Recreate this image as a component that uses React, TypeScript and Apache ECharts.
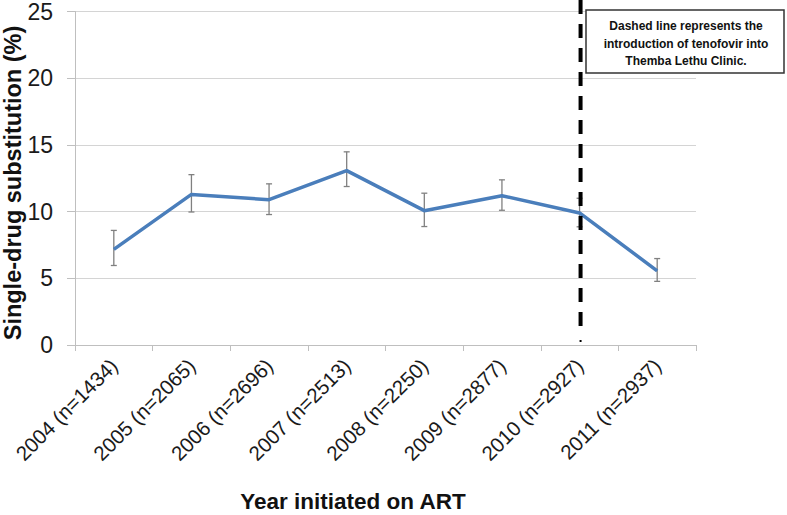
import React, { useEffect, useRef } from "react";
import * as echarts from "echarts";

const categories = [
  "2004 (n=1434)",
  "2005 (n=2065)",
  "2006 (n=2696)",
  "2007 (n=2513)",
  "2008 (n=2250)",
  "2009 (n=2877)",
  "2010 (n=2927)",
  "2011 (n=2937)",
];
const values = [7.17, 11.29, 10.89, 13.07, 10.07, 11.19, 9.9, 5.56];
const lows = [5.96, 9.97, 9.78, 11.88, 8.88, 10.1, 8.86, 4.77];
const highs = [8.59, 12.77, 12.08, 14.48, 11.38, 12.38, 11.0, 6.48];
const tenofovirIndex = 6;
const noteLines = [
  "Dashed line represents the",
  "introduction of tenofovir into",
  "Themba Lethu Clinic.",
];
const xTitle = "Year initiated on ART";
const yTitle = "Single-drug substitution (%)";

const FONT = '"Liberation Sans", Arial, Helvetica, sans-serif';

export default function App() {
  const ref = useRef<HTMLDivElement>(null);
  useEffect(() => {
    if (!ref.current) return;
    const chart = echarts.init(ref.current, undefined, { renderer: "svg" });
    const errData = categories.map((_, i) => [i, lows[i], highs[i]]);
    chart.setOption({
      animation: false,
      backgroundColor: "#ffffff",
      grid: { left: 75, right: 91, top: 8, bottom: 170 },
      xAxis: {
        type: "category",
        data: categories,
        boundaryGap: true,
        axisLine: { show: true, lineStyle: { color: "#bfbfbf", width: 1 } },
        axisTick: { show: true, length: 6, lineStyle: { color: "#bfbfbf" } },
        axisLabel: {
          rotate: 45,
          fontSize: 20.5,
          color: "#1a1a1a",
          fontFamily: FONT,
          margin: 17,
          interval: 0,
        },
      },
      yAxis: {
        type: "value",
        min: 0,
        max: 25,
        interval: 5,
        axisLine: { show: true, lineStyle: { color: "#bfbfbf", width: 1 } },
        axisTick: { show: true, length: 8, lineStyle: { color: "#bfbfbf" } },
        splitLine: { show: true, lineStyle: { color: "#d4d4d4", width: 1 } },
        axisLabel: {
          fontSize: 23,
          color: "#1a1a1a",
          fontFamily: FONT,
          margin: 22,
        },
      },
      series: [
        {
          type: "custom",
          data: errData,
          z: 2,
          renderItem: (params: any, api: any) => {
            const x = api.value(0);
            const lo = api.coord([x, api.value(1)]);
            const hi = api.coord([x, api.value(2)]);
            const cap = 3;
            const style = { stroke: "#808080", lineWidth: 1.3 };
            return {
              type: "group",
              children: [
                { type: "line", shape: { x1: lo[0], y1: lo[1], x2: hi[0], y2: hi[1] }, style },
                { type: "line", shape: { x1: lo[0] - cap, y1: lo[1], x2: lo[0] + cap, y2: lo[1] }, style },
                { type: "line", shape: { x1: hi[0] - cap, y1: hi[1], x2: hi[0] + cap, y2: hi[1] }, style },
              ],
            };
          },
        },
        {
          type: "line",
          data: values,
          z: 3,
          showSymbol: false,
          symbol: "none",
          lineStyle: { color: "#4a7ebb", width: 3.5 },
        },
        {
          type: "custom",
          data: [[tenofovirIndex, 0]],
          z: 4,
          renderItem: (params: any, api: any) => {
            const p = api.coord([api.value(0), api.value(1)]);
            const x = p[0] + 1;
            return {
              type: "group",
              children: [
                {
                  type: "line",
                  shape: { x1: x, y1: 0, x2: x, y2: p[1] - 10 },
                  style: { stroke: "#000", lineWidth: 4, lineDash: [14, 10] },
                },
                {
                  type: "rect",
                  shape: { x: x - 1, y: p[1] - 5, width: 2, height: 2 },
                  style: { fill: "#000" },
                },
              ],
            };
          },
        },
      ],
      graphic: [
        {
          type: "text",
          x: 353,
          y: 501,
          style: {
            text: xTitle,
            fill: "#111",
            font: `bold 22.5px ${FONT}`,
            textAlign: "center",
            textVerticalAlign: "middle",
          },
        },
        {
          type: "text",
          x: 13,
          y: 183,
          rotation: Math.PI / 2,
          style: {
            text: yTitle,
            fill: "#111",
            font: `bold 23.5px ${FONT}`,
            textAlign: "center",
            textVerticalAlign: "middle",
          },
        },
        {
          type: "rect",
          z: 100,
          shape: { x: 586, y: 10, width: 198, height: 63 },
          style: { fill: "#ffffff", stroke: "#333333", lineWidth: 1.5 },
        },
        ...noteLines.map((t, i) => ({
          type: "text",
          z: 101,
          x: 686,
          y: 26 + i * 17.5,
          style: {
            text: t,
            fill: "#111",
            font: `bold 12px ${FONT}`,
            textAlign: "center",
            textVerticalAlign: "middle",
          },
        })),
      ],
    });
    return () => chart.dispose();
  }, []);
  return (
    <div
      ref={ref}
      style={{ position: "fixed", left: 0, top: 0, width: 787, height: 515 }}
    />
  );
}
